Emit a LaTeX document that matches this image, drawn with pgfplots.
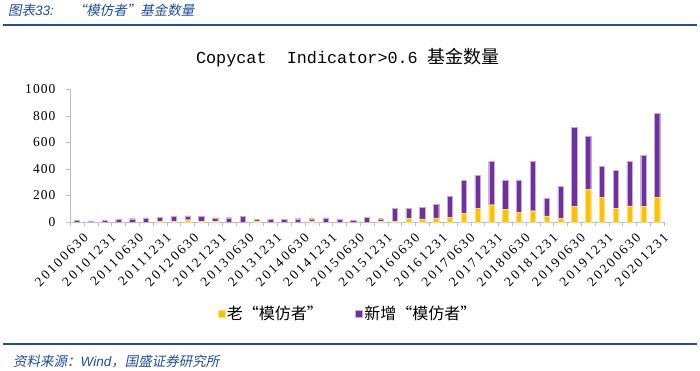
\documentclass[border=0pt]{standalone}
\usepackage{pgfplots}
\pgfplotsset{compat=1.18}
\usepackage{fontspec}
\setmainfont{Liberation Serif}
\newfontfamily\cjk{Noto Sans CJK SC}
\newfontfamily\cjkit[FakeSlant=0.2]{Noto Sans CJK SC}
\newfontfamily\latit{Liberation Sans}
\newfontfamily\monof{Liberation Mono}
\newfontfamily\tickf[LetterSpace=8]{Liberation Serif}
\newfontfamily\xtickf[LetterSpace=16]{Liberation Serif}
\definecolor{oldc}{HTML}{FFC000}
\definecolor{newc}{HTML}{7030A0}
\definecolor{hdr}{HTML}{1F4E9F}
\definecolor{axc}{HTML}{BFBFBF}
\pgfplotstableread{
x old new
0 0 13
1 0 8
2 0 13
3 0 20
4 0 25
5 0 31
6 4 31
7 5 37
8 17 29
9 7 36
10 5 26
11 0 32
12 0 42
13 4 15
14 0 20
15 0 20
16 0 25
17 6 19
18 0 31
19 0 20
20 0 13
21 0 37
22 6 19
23 6 96
24 30 72
25 24 88
26 31 104
27 37 158
28 65 247
29 102 248
30 130 325
31 97 220
32 75 242
33 85 370
34 47 133
35 30 237
36 117 595
37 247 395
38 185 235
39 102 288
40 122 333
41 117 385
42 185 632
}\datatable
\begin{document}
\begin{tikzpicture}[x=1pt,y=1pt]
\path[use as bounding box, fill=white] (0,0) rectangle (700,370);
\draw[hdr, line width=1.6pt] (3,345) -- (697,345);
\node[anchor=west, text=hdr, inner sep=0pt] at (8,360) {\fontsize{13.5}{15}\selectfont{\cjkit 图表}{\latit\itshape 33:}\hspace{1.4em}{\cjkit “模仿者”基金数量}};
\draw[hdr, line width=1.6pt] (3,26) -- (697,26);
\node[anchor=west, text=hdr, inner sep=0pt] at (13,8) {\fontsize{13.5}{15}\selectfont{\cjkit 资料来源：}{\latit\itshape Wind}{\cjkit ，国盛证券研究所}};
\node[anchor=center, inner sep=0pt] at (348,312) {{\fontsize{16.8}{18}\monof Copycat\ \ Indicator>0.6 }{\fontsize{18}{20}\cjk 基金数量}};
\begin{axis}[
  at={(70pt,148pt)}, anchor=south west,
  width=594pt, height=133pt, scale only axis,
  ybar stacked, bar width=0.38,
  xmin=-0.5, xmax=42.5, ymin=0, ymax=1000,
  axis lines=left, axis line style={-, draw=axc},
  tick align=outside,
  ytick={0,200,...,1000},
  yticklabels={0,200,400,600,800,1000},
  ytick style={draw=axc},
  major tick length=4pt,
  xtick={0,2,...,42},
  xticklabels={20100630,20101231,20110630,20111231,20120630,20121231,20130630,20131231,20140630,20141231,20150630,20151231,20160630,20161231,20170630,20171231,20180630,20181231,20190630,20191231,20200630,20201231},
  x tick style={draw=none},
  minor xtick={-0.5,0.5,...,42.5},
  minor x tick style={draw=axc},
  minor tick length=4pt,
  yticklabel style={font=\fontsize{13.5}{14}\tickf, xshift=-7pt},
  xticklabel style={font=\fontsize{13.5}{14}\xtickf, rotate=45, anchor=north east, inner sep=1pt, xshift=1pt, yshift=-7pt},
  legend style={at={(0.468,-0.69)}, anchor=center, draw=none, legend columns=2, font=\fontsize{16}{17}\cjk, /tikz/every even column/.append style={column sep=30pt}},
  legend image code/.code={\fill[#1] (0pt,-3.5pt) rectangle (7pt,3.5pt);},
]
\addplot[fill=oldc, draw=oldc!50!white, line width=0.3pt] table[x=x, y=old] {\datatable};
\addplot[fill=newc, draw=newc!40!white, line width=0.3pt] table[x=x, y=new] {\datatable};
\legend{老“模仿者”, 新增“模仿者”}
\end{axis}
\end{tikzpicture}
\end{document}
